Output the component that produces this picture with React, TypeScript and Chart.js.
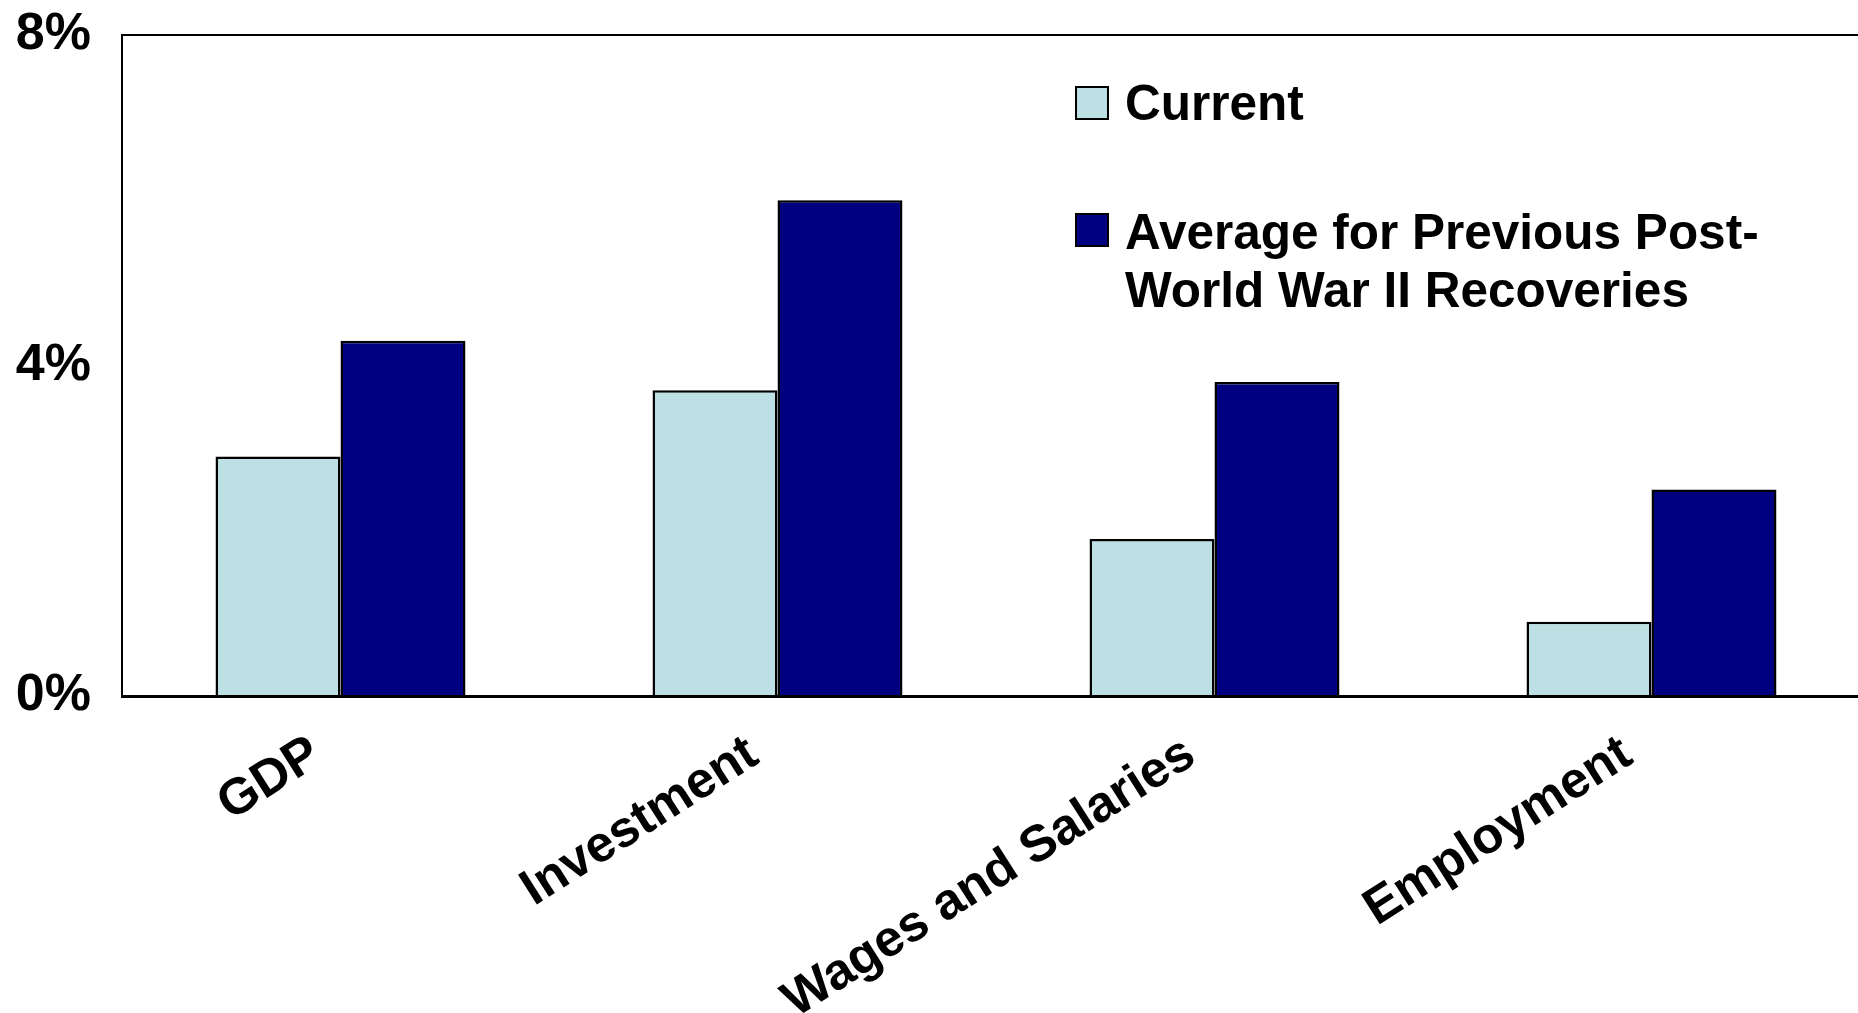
import React, { useEffect, useRef } from "react";
import { Chart, registerables } from "chart.js";

Chart.register(...registerables);

const categories = ["GDP", "Investment", "Wages and Salaries", "Employment"];
const currentValues = [2.9, 3.7, 1.9, 0.9];
const averageValues = [4.3, 6.0, 3.8, 2.5];
const seriesLabels = ["Current", "Average for Previous Post-World War II Recoveries"];
const legendLines = [["Current"], ["Average for Previous Post-", "World War II Recoveries"]];
const yTicks = [0, 4, 8];

const LIGHT = "#BCE0E4";
const NAVY = "#000080";
const FONT = "'Liberation Sans', Arial, Helvetica, sans-serif";

const legendPlugin = {
  id: "customLegend",
  afterDraw(chart: any) {
    const ctx = chart.ctx;
    const items = [
      { color: LIGHT, box: [1076, 87], lines: legendLines[0], baseline: 120 },
      { color: NAVY, box: [1076, 214], lines: legendLines[1], baseline: 249 },
    ];
    ctx.save();
    ctx.font = `bold 49.5px ${FONT}`;
    ctx.fillStyle = "#000";
    ctx.textAlign = "left";
    ctx.textBaseline = "alphabetic";
    items.forEach((it) => {
      ctx.fillStyle = it.color;
      ctx.fillRect(it.box[0], it.box[1], 32, 32);
      ctx.strokeStyle = "#000";
      ctx.lineWidth = 2;
      ctx.strokeRect(it.box[0], it.box[1], 32, 32);
      ctx.fillStyle = "#000";
      it.lines.forEach((ln, i) => {
        ctx.fillText(ln, 1125, it.baseline + i * 58);
      });
    });
    ctx.restore();
  },
};

export default function App() {
  const ref = useRef<HTMLCanvasElement | null>(null);
  useEffect(() => {
    if (!ref.current) return;
    const chart = new Chart(ref.current, {
      type: "bar",
      data: {
        labels: categories,
        datasets: [
          {
            label: seriesLabels[0],
            data: currentValues,
            backgroundColor: LIGHT,
            borderColor: "#000",
            borderWidth: 2.5,
            categoryPercentage: 0.572,
            barPercentage: 1.0,
          },
          {
            label: seriesLabels[1],
            data: averageValues,
            backgroundColor: NAVY,
            borderColor: "#000",
            borderWidth: 2.5,
            categoryPercentage: 0.572,
            barPercentage: 1.0,
          },
        ],
      },
      options: {
        responsive: false,
        animation: false,
        devicePixelRatio: 1,
        layout: { padding: { top: 35, left: 0, right: 0, bottom: 0 } },
        plugins: {
          legend: { display: false },
          tooltip: { enabled: false },
          title: { display: false },
        },
        scales: {
          x: {
            grid: { display: false, drawTicks: false },
            border: { display: true, color: "#000", width: 3 },
            ticks: {
              autoSkip: false,
              minRotation: 32.5,
              maxRotation: 32.5,
              padding: 28,
              labelOffset: -24,
              color: "#000",
              font: { family: FONT, size: 51, weight: "bold" },
            },
            afterFit(scale: any) {
              scale.height = 317;
              scale.paddingLeft = 0;
              scale.paddingRight = 0;
            },
          },
          y: {
            min: 0,
            max: 8,
            afterBuildTicks(scale: any) {
              scale.ticks = yTicks.map((v) => ({ value: v }));
            },
            grid: {
              drawTicks: false,
              lineWidth: 2,
              color: (c: any) => (c.tick && c.tick.value === 8 ? "#000" : "rgba(0,0,0,0)"),
            },
            border: { display: true, color: "#000", width: 2 },
            ticks: {
              padding: 31,
              color: "#000",
              font: { family: FONT, size: 52, weight: "bold" },
              callback: (v: any) => `${v}%`,
            },
            afterFit(scale: any) {
              scale.width = 122;
              scale.paddingTop = 0;
              scale.paddingBottom = 0;
            },
          },
        },
      },
      plugins: [legendPlugin],
    });
    return () => chart.destroy();
  }, []);
  return (
    <div style={{ position: "absolute", left: 0, top: 0, width: 1858, height: 1013, overflow: "hidden", background: "#fff" }}>
      <canvas ref={ref} width={1870} height={1013} style={{ display: "block" }} />
    </div>
  );
}
